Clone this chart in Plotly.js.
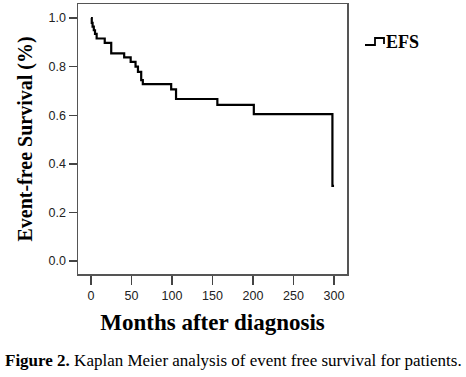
<!DOCTYPE html>
<html>
<head>
<meta charset="utf-8">
<script src="https://cdn.plot.ly/plotly-3.0.1.min.js"></script>
<style>html,body{margin:0;padding:0;background:#fff;}#chart{width:466px;height:377px;}</style>
</head>
<body>
<div id="chart"></div>
<script>
// Kaplan-Meier step data (months, survival proportion)
var months = [0, 1, 2, 3.5, 5, 7, 17, 25, 41, 49, 55, 58, 62, 64, 99, 105, 156, 201, 298, 300];
var survival = [1.0, 0.98, 0.965, 0.95, 0.935, 0.916, 0.898, 0.855, 0.838, 0.82, 0.80, 0.779, 0.745, 0.728, 0.707, 0.667, 0.643, 0.605, 0.31, 0.31];
var xTicks = [0, 50, 100, 150, 200, 250, 300];
var yTicks = [0.0, 0.2, 0.4, 0.6, 0.8, 1.0];
var seriesName = "EFS";

var trace = {
  x: months, y: survival, name: seriesName, type: "scatter", mode: "lines",
  line: {shape: "hv", color: "#000", width: 2.2}, showlegend: false, hoverinfo: "x+y"
};

// helpers: pixel -> paper
var L = 78, R = 347, T = 4, B = 274;
function px(x){ return (x - L) / (R - L); }
function py(y){ return (B - y) / (B - T); }

var legendPath = "M " + px(365) + "," + py(45) + " L " + px(375) + "," + py(45) +
  " L " + px(375) + "," + py(38) + " L " + px(384) + "," + py(38) + " L " + px(384) + "," + py(44);

var layout = {
  width: 466, height: 377,
  margin: {l: L, r: 466 - R, t: T, b: 377 - B, pad: 0},
  paper_bgcolor: "#fff", plot_bgcolor: "#fff",
  xaxis: {
    range: [-16, 316], tickvals: xTicks, ticktext: xTicks.map(String),
    showgrid: false, zeroline: false, showline: true, mirror: true,
    linecolor: "#555", linewidth: 1.5, ticks: "outside", ticklen: 9, tickwidth: 1.5, tickcolor: "#444",
    tickfont: {family: "Arial, 'Liberation Sans', sans-serif", size: 12.5, color: "#222"},
    title: {text: "Months after diagnosis", standoff: 12,
      font: {family: "'Times New Roman', 'Liberation Serif', serif", size: 23, color: "#000", weight: "bold"}}
  },
  yaxis: {
    range: [-0.053, 1.058], tickvals: yTicks, tickformat: ".1f",
    showgrid: false, zeroline: false, showline: true, mirror: true,
    linecolor: "#555", linewidth: 1.5, ticks: "outside", ticklen: 8, tickwidth: 1.5, tickcolor: "#444",
    tickfont: {family: "Arial, 'Liberation Sans', sans-serif", size: 12.5, color: "#222"},
    title: {text: "Event-free Survival (%)", standoff: 10,
      font: {family: "'Times New Roman', 'Liberation Serif', serif", size: 20, color: "#000", weight: "bold"}}
  },
  shapes: [{type: "path", xref: "paper", yref: "paper", path: legendPath, line: {color: "#000", width: 1.8}}],
  annotations: [
    {xref: "paper", yref: "paper", x: px(384), y: py(42), xanchor: "left", yanchor: "middle",
     text: "<b>" + seriesName + "</b>", showarrow: false,
     font: {family: "'Times New Roman', 'Liberation Serif', serif", size: 18, color: "#000"}},
    {xref: "paper", yref: "paper", x: px(233), y: py(360), xanchor: "center", yanchor: "middle",
     text: "<b>Figure 2.</b> Kaplan Meier analysis of event free survival for patients.", showarrow: false,
     font: {family: "'Times New Roman', 'Liberation Serif', serif", size: 17, color: "#000"}}
  ]
};

Plotly.newPlot("chart", [trace], layout, {displayModeBar: false, staticPlot: true});
</script>
</body>
</html>
